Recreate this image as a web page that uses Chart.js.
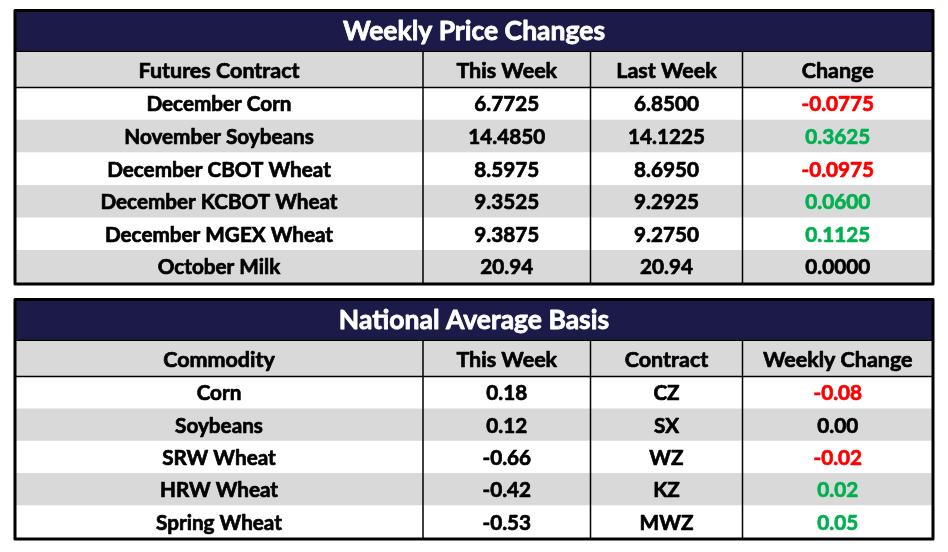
<!DOCTYPE html>
<html>
<head>
<meta charset="utf-8">
<script src="https://cdn.jsdelivr.net/npm/chart.js@4.4.1/dist/chart.umd.min.js"></script>
<style>
  html, body { margin: 0; padding: 0; background: #fff; }
  body { width: 948px; height: 552px; position: relative; overflow: hidden; }
  .tbl { position: absolute; left: 0; width: 948px; }
  #priceBox { top: 0; height: 295px; }
  #basisBox { top: 289px; height: 261px; }
</style>
</head>
<body>
<div class="tbl" id="priceBox"><canvas id="priceChart"></canvas></div>
<div class="tbl" id="basisBox"><canvas id="basisChart"></canvas></div>
<script>
(function () {
  'use strict';

  // --- weekly price changes
  const priceTitle = 'Weekly Price Changes';
  const priceHeaders = ['Futures Contract', 'This Week', 'Last Week', 'Change'];
  const contracts = ['December Corn', 'November Soybeans', 'December CBOT Wheat',
    'December KCBOT Wheat', 'December MGEX Wheat', 'October Milk'];
  const thisWeekPrice = [6.7725, 14.4850, 8.5975, 9.3525, 9.3875, 20.94];
  const lastWeekPrice = [6.8500, 14.1225, 8.6950, 9.2925, 9.2750, 20.94];
  const priceChange = [-0.0775, 0.3625, -0.0975, 0.0600, 0.1125, 0.0000];
  const priceDecimals = [4, 4, 4, 4, 4, 2];

  // --- national average basis
  const basisTitle = 'National Average Basis';
  const basisHeaders = ['Commodity', 'This Week', 'Contract', 'Weekly Change'];
  const commodities = ['Corn', 'Soybeans', 'SRW Wheat', 'HRW Wheat', 'Spring Wheat'];
  const basisThisWeek = [0.18, 0.12, -0.66, -0.42, -0.53];
  const basisContract = ['CZ', 'SX', 'WZ', 'KZ', 'MWZ'];
  const basisChange = [-0.08, 0.00, -0.02, 0.02, 0.05];

  // layout (pixels)
  const COL_EDGES = [0, 408, 575.5, 727.5, 918];
  const NAVY = '#1b1a48';
  const GRAY = '#d9d9d9';
  const RED = '#ff0000';
  const GREEN = '#00b050';
  const FONT = 'Lato, "Noto Sans", sans-serif';

  function changeColor(v) {
    if (v < 0) return RED;
    if (v > 0) return GREEN;
    return '#000';
  }

  // heavier text: fill plus a thin stroke in the same colour
  function boldText(ctx, text, x, y, color, weight) {
    ctx.fillStyle = color;
    ctx.strokeStyle = color;
    ctx.lineWidth = weight;
    ctx.lineJoin = 'round';
    ctx.strokeText(text, x, y);
    ctx.fillText(text, x, y);
  }

  const tablePlugin = {
    id: 'tableCells',
    afterDatasetsDraw(chart) {
      const ctx = chart.ctx;
      const xs = chart.scales.x;
      const ys = chart.scales.y;
      const area = chart.chartArea;
      const cfg = chart.options.plugins.tableCells;
      const left = xs.getPixelForValue(COL_EDGES[0]);
      const right = xs.getPixelForValue(COL_EDGES[COL_EDGES.length - 1]);
      const w = right - left;
      const colMid = j => xs.getPixelForValue((COL_EDGES[j] + COL_EDGES[j + 1]) / 2);

      ctx.save();
      // title band
      ctx.fillStyle = NAVY;
      ctx.fillRect(left, 10, w, 40.5);
      ctx.fillStyle = '#000';
      ctx.fillRect(left, 50.2, w, 2);
      // header band
      ctx.fillStyle = GRAY;
      ctx.fillRect(left, 52.2, w, area.top - 52.2);

      ctx.textAlign = 'center';
      ctx.textBaseline = 'middle';
      ctx.font = 'bold 26.5px ' + FONT;
      boldText(ctx, cfg.title, (left + right) / 2, 31.5, '#fff', 0.8);

      ctx.font = 'bold 21.5px ' + FONT;
      cfg.headers.forEach((h, j) => boldText(ctx, h, colMid(j), (52.2 + area.top) / 2 + 1, '#000', 0.7));

      // cells
      ctx.font = 'bold 20.7px ' + FONT;
      cfg.rows.forEach((row, i) => {
        const y = ys.getPixelForValue(i) + 1;
        row.forEach((cell, j) => boldText(ctx, cell.text, colMid(j), y, cell.color, 0.7));
      });

      // lines
      ctx.strokeStyle = '#000';
      ctx.lineWidth = 1.5;
      ctx.beginPath();
      ctx.moveTo(left, area.top);
      ctx.lineTo(right, area.top);
      for (let j = 1; j < COL_EDGES.length - 1; j++) {
        const x = xs.getPixelForValue(COL_EDGES[j]);
        ctx.moveTo(x, 52);
        ctx.lineTo(x, area.bottom);
      }
      ctx.stroke();
      ctx.lineWidth = 3;
      ctx.strokeRect(left, 10.5, w, area.bottom + 1 - 10.5);
      ctx.restore();
    }
  };

  function makeTable(canvasId, title, headers, rowLabels, rows) {
    const total = COL_EDGES[COL_EDGES.length - 1];
    return new Chart(document.getElementById(canvasId), {
      type: 'bar',
      data: {
        labels: rowLabels,
        datasets: [{
          data: rowLabels.map(() => [COL_EDGES[0], total]),
          backgroundColor: rowLabels.map((_, i) => (i % 2 === 0 ? '#ffffff' : GRAY)),
          borderWidth: 0,
          barPercentage: 1,
          categoryPercentage: 1,
        }],
      },
      options: {
        indexAxis: 'y',
        responsive: true,
        maintainAspectRatio: false,
        animation: false,
        layout: { padding: { left: 15, right: 15, top: 87.5, bottom: 12 } },
        scales: {
          x: { type: 'linear', min: COL_EDGES[0], max: total, display: false },
          y: { type: 'category', offset: true, display: false },
        },
        plugins: {
          legend: { display: false },
          tooltip: { enabled: false },
          tableCells: { title, headers, rows },
        },
      },
      plugins: [tablePlugin],
    });
  }

  const priceRows = contracts.map((c, i) => [
    { text: c, color: '#000' },
    { text: thisWeekPrice[i].toFixed(priceDecimals[i]), color: '#000' },
    { text: lastWeekPrice[i].toFixed(priceDecimals[i]), color: '#000' },
    { text: priceChange[i].toFixed(4), color: changeColor(priceChange[i]) },
  ]);

  const basisRows = commodities.map((c, i) => [
    { text: c, color: '#000' },
    { text: basisThisWeek[i].toFixed(2), color: '#000' },
    { text: basisContract[i], color: '#000' },
    { text: basisChange[i].toFixed(2), color: changeColor(basisChange[i]) },
  ]);

  makeTable('priceChart', priceTitle, priceHeaders, contracts, priceRows);
  makeTable('basisChart', basisTitle, basisHeaders, commodities, basisRows);
})();
</script>
</body>
</html>
